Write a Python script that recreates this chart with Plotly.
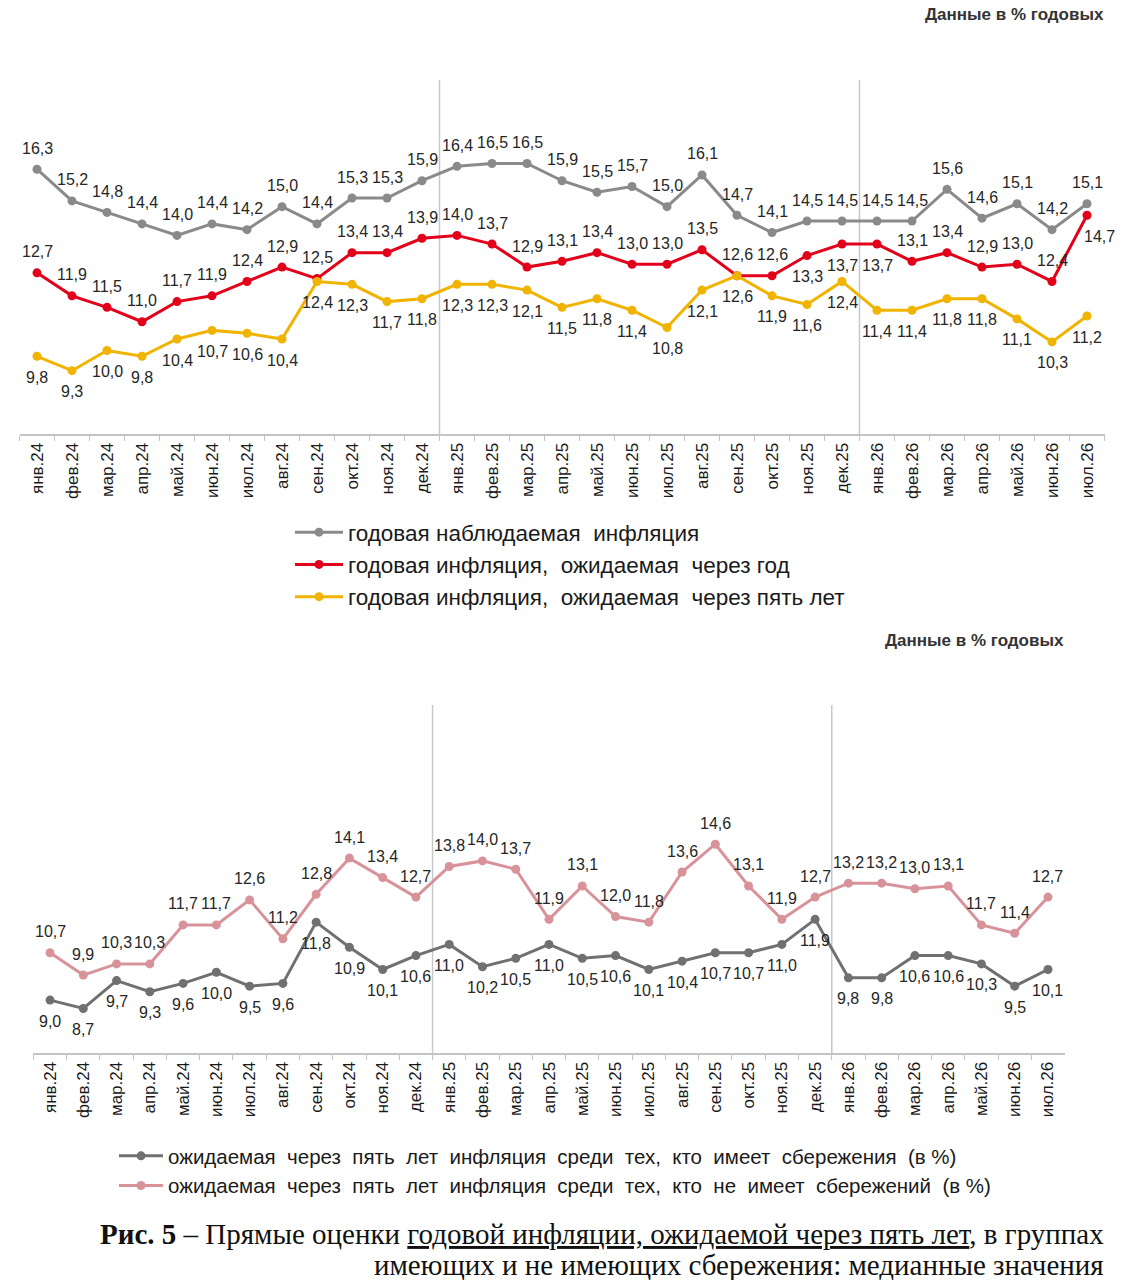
import plotly.graph_objects as go

months = ["янв.24", "фев.24", "мар.24", "апр.24", "май.24", "июн.24", "июл.24", "авг.24",
          "сен.24", "окт.24", "ноя.24", "дек.24",
          "янв.25", "фев.25", "мар.25", "апр.25", "май.25", "июн.25", "июл.25", "авг.25",
          "сен.25", "окт.25", "ноя.25", "дек.25",
          "янв.26", "фев.26", "мар.26", "апр.26", "май.26", "июн.26", "июл.26"]

observed = [16.3, 15.2, 14.8, 14.4, 14.0, 14.4, 14.2, 15.0, 14.4, 15.3, 15.3, 15.9,
            16.4, 16.5, 16.5, 15.9, 15.5, 15.7, 15.0, 16.1, 14.7, 14.1, 14.5, 14.5,
            14.5, 14.5, 15.6, 14.6, 15.1, 14.2, 15.1]
expected_1y = [12.7, 11.9, 11.5, 11.0, 11.7, 11.9, 12.4, 12.9, 12.5, 13.4, 13.4, 13.9,
               14.0, 13.7, 12.9, 13.1, 13.4, 13.0, 13.0, 13.5, 12.6, 12.6, 13.3, 13.7,
               13.7, 13.1, 13.4, 12.9, 13.0, 12.4, 14.7]
expected_5y = [9.8, 9.3, 10.0, 9.8, 10.4, 10.7, 10.6, 10.4, 12.4, 12.3, 11.7, 11.8,
               12.3, 12.3, 12.1, 11.5, 11.8, 11.4, 10.8, 12.1, 12.6, 11.9, 11.6, 12.4,
               11.4, 11.4, 11.8, 11.8, 11.1, 10.3, 11.2]

with_savings = [9.0, 8.7, 9.7, 9.3, 9.6, 10.0, 9.5, 9.6, 11.8, 10.9, 10.1, 10.6,
                11.0, 10.2, 10.5, 11.0, 10.5, 10.6, 10.1, 10.4, 10.7, 10.7, 11.0, 11.9,
                9.8, 9.8, 10.6, 10.6, 10.3, 9.5, 10.1]
without_savings = [10.7, 9.9, 10.3, 10.3, 11.7, 11.7, 12.6, 11.2, 12.8, 14.1, 13.4, 12.7,
                   13.8, 14.0, 13.7, 11.9, 13.1, 12.0, 11.8, 13.6, 14.6, 13.1, 11.9, 12.7,
                   13.2, 13.2, 13.0, 13.1, 11.7, 11.4, 12.7]

names_top = ["годовая наблюдаемая  инфляция",
             "годовая инфляция,  ожидаемая  через год",
             "годовая инфляция,  ожидаемая  через пять лет"]
names_bottom = ["ожидаемая  через  пять  лет  инфляция  среди  тех,  кто  имеет  сбережения  (в %)",
                "ожидаемая  через  пять  лет  инфляция  среди  тех,  кто  не  имеет  сбережений  (в %)"]
unit_note = "Данные в % годовых"
caption_1 = "<b>Рис. 5</b> – Прямые оценки <u>годовой инфляции, ожидаемой через пять лет</u>, в группах"
caption_2 = "имеющих и не имеющих сбережения: медианные значения"

W, H = 1147, 1280
FONT = "Liberation Sans, Arial, sans-serif"
SERIF = "Liberation Serif, Times New Roman, serif"
LBL = "#262626"
LBL_SIZE = 16
LBL_OFF = 21


def fmt(v):
    return f"{v:.1f}".replace(".", ",")


# label side per point (+1 above, -1 below)
red_side = [1] * len(months)
for m in ["ноя.25", "дек.25", "янв.26", "июл.26"]:
    red_side[months.index(m)] = -1
red_dx = [0] * len(months)
red_dx[months.index("июл.26")] = 12

zero = [0] * len(months)
fig = go.Figure()

top_specs = [
    (observed, names_top[0], "#8a8a8a", [1] * len(months), zero),
    (expected_1y, names_top[1], "#e2001a", red_side, red_dx),
    (expected_5y, names_top[2], "#f0b400", [-1] * len(months), zero),
]
bottom_specs = [
    (with_savings, names_bottom[0], "#707070", [-1] * len(months), zero),
    (without_savings, names_bottom[1], "#d8939a", [1] * len(months), zero),
]

annotations = []
for specs, xa, ya, lg in [(top_specs, "x", "y", "legend"), (bottom_specs, "x2", "y2", "legend2")]:
    for vals, nm, col, sides, dxs in specs:
        fig.add_trace(go.Scatter(
            x=months, y=vals, name=nm, mode="lines+markers",
            line=dict(color=col, width=3), marker=dict(color=col, size=9),
            xaxis=xa, yaxis=ya, legend=lg, cliponaxis=False,
        ))
        for m, v, s, dx in zip(months, vals, sides, dxs):
            annotations.append(dict(
                x=m, y=v, xref=xa, yref=ya, text=fmt(v), showarrow=False,
                xanchor="center", yanchor="middle", yshift=s * LBL_OFF, xshift=dx,
                font=dict(size=LBL_SIZE, color=LBL, family=FONT)))

xcommon = dict(type="category", tickangle=-90, showgrid=False, showline=True,
               linecolor="#c4c4c4", linewidth=2, ticks="outside", tickson="boundaries",
               ticklen=5, tickcolor="#c4c4c4", tickfont=dict(size=17, color="#1a1a1a", family=FONT),
               range=[-0.5, len(months) - 0.5], fixedrange=True)

annotations += [
    dict(text=f"<b>{unit_note}</b>", xref="paper", yref="paper", x=1106 / W, y=1 - 14 / H,
         xanchor="right", yanchor="middle", showarrow=False,
         font=dict(size=17, color="#333333", family=FONT)),
    dict(text=f"<b>{unit_note}</b>", xref="paper", yref="paper", x=1066 / W, y=1 - 640 / H,
         xanchor="right", yanchor="middle", showarrow=False,
         font=dict(size=17, color="#333333", family=FONT)),
    dict(text=caption_1, xref="paper", yref="paper", x=1106 / W, y=1 - 1234 / H,
         xanchor="right", yanchor="middle", showarrow=False,
         font=dict(size=29, color="#111111", family=SERIF)),
    dict(text=caption_2, xref="paper", yref="paper", x=1106 / W, y=1 - 1265 / H,
         xanchor="right", yanchor="middle", showarrow=False,
         font=dict(size=29, color="#111111", family=SERIF)),
]

fig.update_layout(
    width=W, height=H, autosize=False,
    margin=dict(l=0, r=0, t=0, b=0),
    paper_bgcolor="white", plot_bgcolor="white",
    font=dict(family=FONT),
    xaxis=dict(domain=[19.5 / W, 1104.5 / W], anchor="y", **xcommon),
    yaxis=dict(domain=[1 - 434 / H, 1 - 80 / H], range=[7.1, 19.4], visible=False, anchor="x",
               fixedrange=True),
    xaxis2=dict(domain=[33.4 / W, 1064.6 / W], anchor="y2", **xcommon),
    yaxis2=dict(domain=[1 - 1053 / H, 1 - 705 / H], range=[7.1, 19.6], visible=False, anchor="x2",
                fixedrange=True),
    legend=dict(x=290 / W, y=1 - 511 / H, xanchor="left", yanchor="top",
                font=dict(size=22.5, color="#1a1a1a", family=FONT),
                itemwidth=48, bgcolor="rgba(0,0,0,0)"),
    legend2=dict(x=114 / W, y=1 - 1136 / H, xanchor="left", yanchor="top",
                 font=dict(size=20.5, color="#1a1a1a", family=FONT),
                 itemwidth=44, bgcolor="rgba(0,0,0,0)", tracegroupgap=0),
    showlegend=True,
    annotations=annotations,
)

# year separators
for xa, ya in [("x", "y"), ("x2", "y2")]:
    for m in ["янв.25", "янв.26"]:
        xpos = months.index(m) - 0.5
        fig.add_shape(type="line", xref=xa, yref=f"{ya} domain", x0=xpos, x1=xpos, y0=0, y1=1,
                      line=dict(color="#c8c8c8", width=1.5), layer="below")

fig.write_html("out.html", config={"displayModeBar": False},
               post_script="document.body.style.margin='0';document.body.style.overflow='hidden';")
